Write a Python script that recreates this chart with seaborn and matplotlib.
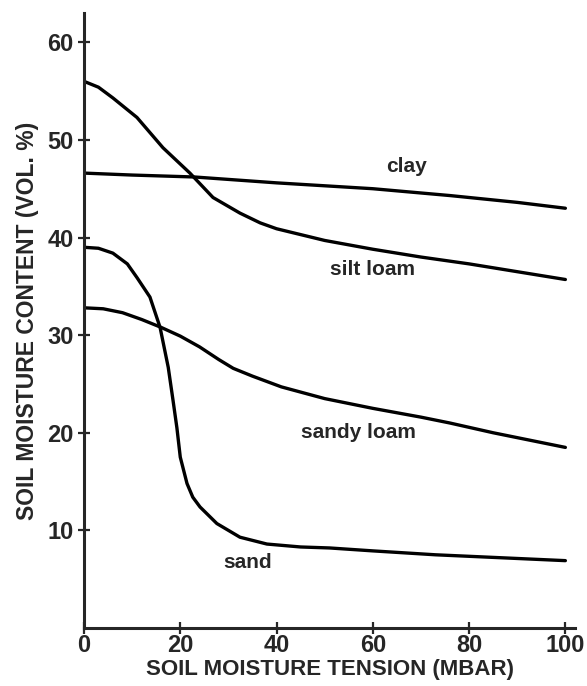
import pandas as pd
import numpy as np
import matplotlib
matplotlib.use("Agg")
import matplotlib.pyplot as plt
import seaborn as sns

# curves (tension in mbar, moisture in vol %)
clay_x = [0, 10, 23, 40, 60, 76, 90, 100]
clay_y = [46.6, 46.4, 46.2, 45.6, 45.0, 44.3, 43.6, 43.0]

silt_x = [0, 3, 6, 11, 16.4, 22, 26.8, 32.4, 36.6, 40, 50, 60, 70, 80, 90, 100]
silt_y = [56.0, 55.4, 54.3, 52.3, 49.2, 46.6, 44.1, 42.5, 41.5, 40.9, 39.7, 38.8, 38.0, 37.3, 36.5, 35.7]

sandy_x = [0, 4, 8, 12, 16, 20, 24, 28, 31, 35, 41, 50, 60, 70, 76, 85, 100]
sandy_y = [32.8, 32.7, 32.3, 31.6, 30.8, 29.9, 28.8, 27.5, 26.6, 25.8, 24.7, 23.5, 22.5, 21.6, 21.0, 20.0, 18.5]

sand_x = [0, 3, 6, 9, 11, 13.7, 15.8, 17.5, 18.5, 19.3, 20.0, 21.4, 22.6, 24.1, 27.6, 32.4, 38, 45, 51, 60, 73, 100]
sand_y = [39.0, 38.9, 38.4, 37.3, 35.9, 33.9, 30.8, 26.7, 23.3, 20.5, 17.5, 14.8, 13.4, 12.4, 10.7, 9.3, 8.6, 8.3, 8.2, 7.9, 7.5, 6.9]

labels = ["clay", "silt loam", "sandy loam", "sand"]
label_pos = [(67, 47.3), (60, 36.7), (57, 20.0), (33.9, 6.7)]

x_ticks = [0, 20, 40, 60, 80, 100]
y_ticks = [10, 20, 30, 40, 50, 60]

frames = []
for name, xs, ys in [("clay", clay_x, clay_y), ("silt loam", silt_x, silt_y),
                     ("sandy loam", sandy_x, sandy_y), ("sand", sand_x, sand_y)]:
    frames.append(pd.DataFrame({"tension": xs, "moisture": ys, "soil": name}))
df = pd.concat(frames, ignore_index=True)

sns.set_style("ticks")
plt.rcParams["font.family"] = ["Liberation Sans", "DejaVu Sans"]

fig = plt.figure(figsize=(5.87, 6.86), dpi=100)
ax = fig.add_axes([84 / 587, 58 / 686, (575 - 84) / 587, (628 - 13) / 686])

sns.lineplot(data=df, x="tension", y="moisture", units="soil", estimator=None,
             color="black", linewidth=2.4, sort=False, ax=ax)

for txt, (tx, ty) in zip(labels, label_pos):
    ax.text(tx, ty, txt, ha="center", va="center", fontsize=15, fontweight="bold")

ax.set_xlim(0, 102)
ax.set_ylim(0, 63)
ax.set_xticks(x_ticks)
ax.set_yticks(y_ticks)
ax.tick_params(direction="inout", length=9, width=1.6, labelsize=17, pad=3)
ax.tick_params(axis="x", pad=0)
for lab in ax.get_xticklabels() + ax.get_yticklabels():
    lab.set_fontweight("bold")
for side in ["top", "right"]:
    ax.spines[side].set_visible(False)
for side in ["left", "bottom"]:
    ax.spines[side].set_linewidth(2.2)

ax.set_xlabel("SOIL MOISTURE TENSION (MBAR)", fontsize=16, fontweight="bold", labelpad=1)
ax.set_ylabel("SOIL MOISTURE CONTENT (VOL. %)", fontsize=16.5, fontweight="bold", labelpad=6)

fig.savefig("out.png", dpi=100)
